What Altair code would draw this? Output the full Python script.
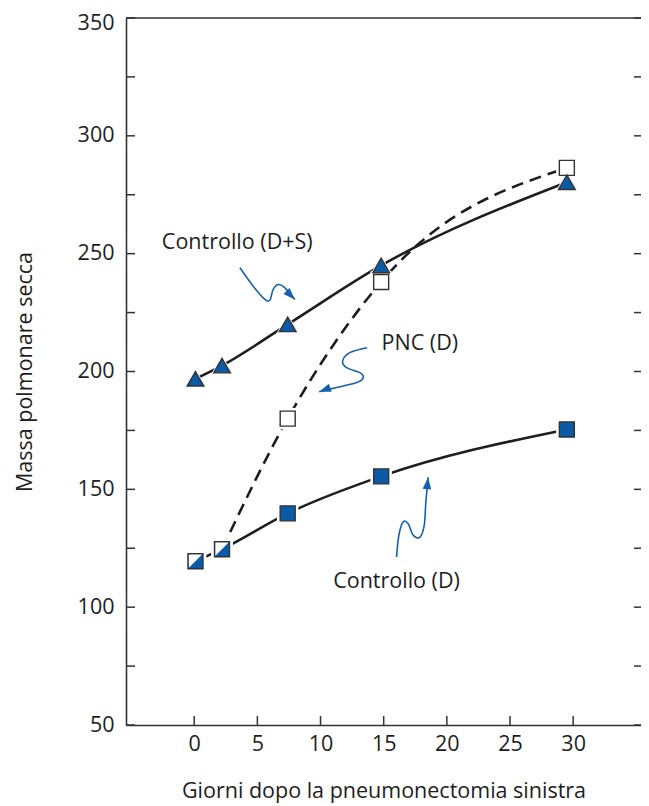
import altair as alt
import pandas as pd

# ---- data ----
days = [0.1, 2.2, 7.4, 14.8, 29.5]
controllo_ds = [196.9, 202.5, 220.0, 245.0, 280.3]
pnc_d = [119.5, 124.6, 180.0, 238.0, 286.4]
controllo_d = [119.5, 124.6, 139.8, 155.5, 175.4]

x_tick_values = [0, 5, 10, 15, 20, 25, 30]
y_tick_values = [50, 75, 100, 125, 150, 175, 200, 225, 250, 275, 300, 325, 350]
y_label_values = [50, 100, 150, 200, 250, 300, 350]

label_text = ["Controllo (D+S)", "PNC (D)", "Controllo (D)"]
label_x = [-2.56, 14.83, 11.0]
label_y = [254.5, 211.8, 110.7]

# annotation arrows (data units)
arrow1_x = [3.62, 4.67, 5.60, 5.99, 6.25, 6.65, 7.18, 7.97]
arrow1_y = [244.0, 236.2, 230.6, 230.3, 234.8, 236.9, 235.5, 230.6]
arrow2_x = [13.69, 12.32, 11.75, 12.06, 13.12, 13.38, 12.86, 11.27, 9.89]
arrow2_y = [210.1, 208.0, 204.5, 201.65, 199.5, 197.4, 195.3, 193.2, 191.4]
arrow3_x = [16.02, 16.20, 16.54, 16.94, 17.34, 17.87, 18.21, 18.32, 18.44, 18.52]
arrow3_y = [121.3, 130.5, 136.1, 135.4, 130.5, 129.7, 134.7, 143.15, 150.9, 155.1]
arrow_angle = [135, 250, 6]

# ---- styling ----
FONT = "Open Sans"
FS = 21.5
BLUE = "#0b5aa6"
ARROW_BLUE = "#1561ad"
INK = "#1e1e1e"
AX = "#333333"
W, H = 515, 707
X_DOM = [-5.4, 35.37]
Y_DOM = [50, 350]

xs = alt.Scale(domain=X_DOM, nice=False, zero=False)
ys = alt.Scale(domain=Y_DOM, nice=False, zero=False)

X_AXIS = alt.Axis(values=x_tick_values, ticks=False, grid=False,
                  domainColor=AX, domainWidth=1.6,
                  labelFont=FONT, labelFontSize=FS, labelColor=INK,
                  labelPadding=8, title="Giorni dopo la pneumonectomia sinistra",
                  titleFont=FONT, titleFontSize=FS, titleFontWeight="normal",
                  titleColor=INK, titlePadding=26)
Y_AXIS = alt.Axis(values=y_label_values, ticks=False, grid=False,
                  domainColor=AX, domainWidth=1.6,
                  labelFont=FONT, labelFontSize=FS, labelColor=INK,
                  labelPadding=12,
                  labelOffset={"condition": {"test": f"datum.value === {Y_DOM[1]}",
                                             "value": 5}, "value": 0},
                  title="Massa polmonare secca",
                  titleFont=FONT, titleFontSize=FS, titleFontWeight="normal",
                  titleColor=INK, titlePadding=41)


def xenc(field):
    return alt.X(f"{field}:Q", scale=xs, axis=X_AXIS)


def yenc(field):
    return alt.Y(f"{field}:Q", scale=ys, axis=Y_AXIS)


series = pd.DataFrame({
    "day": days,
    "cds": controllo_ds,
    "pnc": pnc_d,
    "cd": controllo_d,
})
series["idx"] = range(len(days))
series["shared"] = series["pnc"] == series["cd"]

base = alt.Chart(series)

line_ds = base.mark_line(interpolate="monotone", color=INK, strokeWidth=2.6).encode(
    x=xenc("day"), y=yenc("cds"))
# the first PNC segment coincides with the Controllo (D) line
line_pnc = base.transform_filter("datum.idx >= 1").mark_line(
    interpolate="monotone", color=INK, strokeWidth=2.6,
    strokeDash=[12, 7]).encode(x=xenc("day"), y=yenc("pnc"))
line_cd = base.mark_line(interpolate="monotone", color=INK, strokeWidth=2.6).encode(
    x=xenc("day"), y=yenc("cd"))

halo_sq_cd = base.mark_point(shape="square", filled=True, fill="white", opacity=1,
                             size=460, strokeWidth=0).encode(x=xenc("day"), y=yenc("cd"))
halo_sq_pnc = base.mark_point(shape="square", filled=True, fill="white", opacity=1,
                              size=460, strokeWidth=0).encode(x=xenc("day"), y=yenc("pnc"))
halo_tri = base.mark_point(shape="triangle-up", filled=True, fill="white", opacity=1,
                           size=560, strokeWidth=0).encode(x=xenc("day"), y=yenc("cds"))

pt_cd = base.mark_point(shape="square", filled=True, fill=BLUE, stroke=AX,
                        strokeWidth=1.4, size=225, opacity=1).encode(
    x=xenc("day"), y=yenc("cd"))
pt_pnc_open = base.transform_filter("!datum.shared").mark_point(
    shape="square", filled=True, fill="white", stroke=AX, strokeWidth=1.4,
    size=225, opacity=1).encode(x=xenc("day"), y=yenc("pnc"))
pt_pnc_half = base.transform_filter("datum.shared").mark_point(
    shape="M -0.88 -0.88 L 0.88 -0.88 L -0.88 0.88 Z", filled=True, fill="white",
    strokeWidth=0, size=225, opacity=1).encode(x=xenc("day"), y=yenc("pnc"))
pt_tri = base.mark_point(shape="triangle-up", filled=True, fill=BLUE, stroke=AX,
                         strokeWidth=1.4, size=280, opacity=1).encode(
    x=xenc("day"), y=yenc("cds"))

# ---- inward ticks and top frame ----
yt = pd.DataFrame({"v": y_tick_values})
xt = pd.DataFrame({"v": x_tick_values})
left_ticks = alt.Chart(yt).mark_rule(color=AX, strokeWidth=1.5).encode(
    y=yenc("v"), x=alt.value(0), x2=alt.value(9))
right_ticks = alt.Chart(yt).mark_rule(color=AX, strokeWidth=1.5).encode(
    y=yenc("v"), x=alt.value(W - 7), x2=alt.value(W))
bottom_ticks = alt.Chart(xt).mark_rule(color=AX, strokeWidth=1.5).encode(
    x=xenc("v"), y=alt.value(H - 9), y2=alt.value(H))
top_line = alt.Chart(pd.DataFrame({"v": [Y_DOM[1]]})).mark_rule(
    color=AX, strokeWidth=1.6).encode(
    y=yenc("v"), x=alt.value(0), x2=alt.value(W))

# ---- annotations ----
labels = alt.Chart(pd.DataFrame({"t": label_text, "x": label_x, "y": label_y})).mark_text(
    align="left", baseline="middle", font=FONT, fontSize=FS, color=INK).encode(
    x=xenc("x"), y=yenc("y"), text="t:N")

arrow_rows = []
for k, (ax_, ay_) in enumerate([(arrow1_x, arrow1_y), (arrow2_x, arrow2_y),
                                (arrow3_x, arrow3_y)]):
    for i, (a, b) in enumerate(zip(ax_, ay_)):
        arrow_rows.append({"a": k, "i": i, "x": a, "y": b})
arrows_df = pd.DataFrame(arrow_rows)
arrow_lines = alt.Chart(arrows_df).mark_line(
    interpolate="cardinal", color=ARROW_BLUE, strokeWidth=1.6).encode(
    x=xenc("x"), y=yenc("y"), detail="a:N", order="i:Q")

heads_df = pd.DataFrame({
    "x": [arrow1_x[-1], arrow2_x[-1], arrow3_x[-1]],
    "y": [arrow1_y[-1], arrow2_y[-1], arrow3_y[-1]],
    "ang": arrow_angle,
})
arrow_heads = alt.Chart(heads_df).mark_point(
    shape="M 0 0 L 0.36 1 L -0.36 1 Z", filled=True, fill=ARROW_BLUE,
    strokeWidth=0, size=560, opacity=1).encode(
    x=xenc("x"), y=yenc("y"), angle=alt.Angle("ang:Q", scale=None))

chart = alt.layer(
    line_ds, line_pnc, line_cd,
    halo_sq_cd, halo_sq_pnc, halo_tri,
    pt_cd, pt_pnc_open, pt_pnc_half, pt_tri,
    left_ticks, right_ticks, bottom_ticks, top_line,
    arrow_lines, arrow_heads, labels,
).properties(
    width=W, height=H,
    padding={"left": 118, "top": 10, "right": 0, "bottom": 80},
    autosize=alt.AutoSizeParams(type="none"),
).configure_view(stroke=None).configure(background="white")

chart.save("out.html", embed_options={"renderer": "svg", "actions": False})
